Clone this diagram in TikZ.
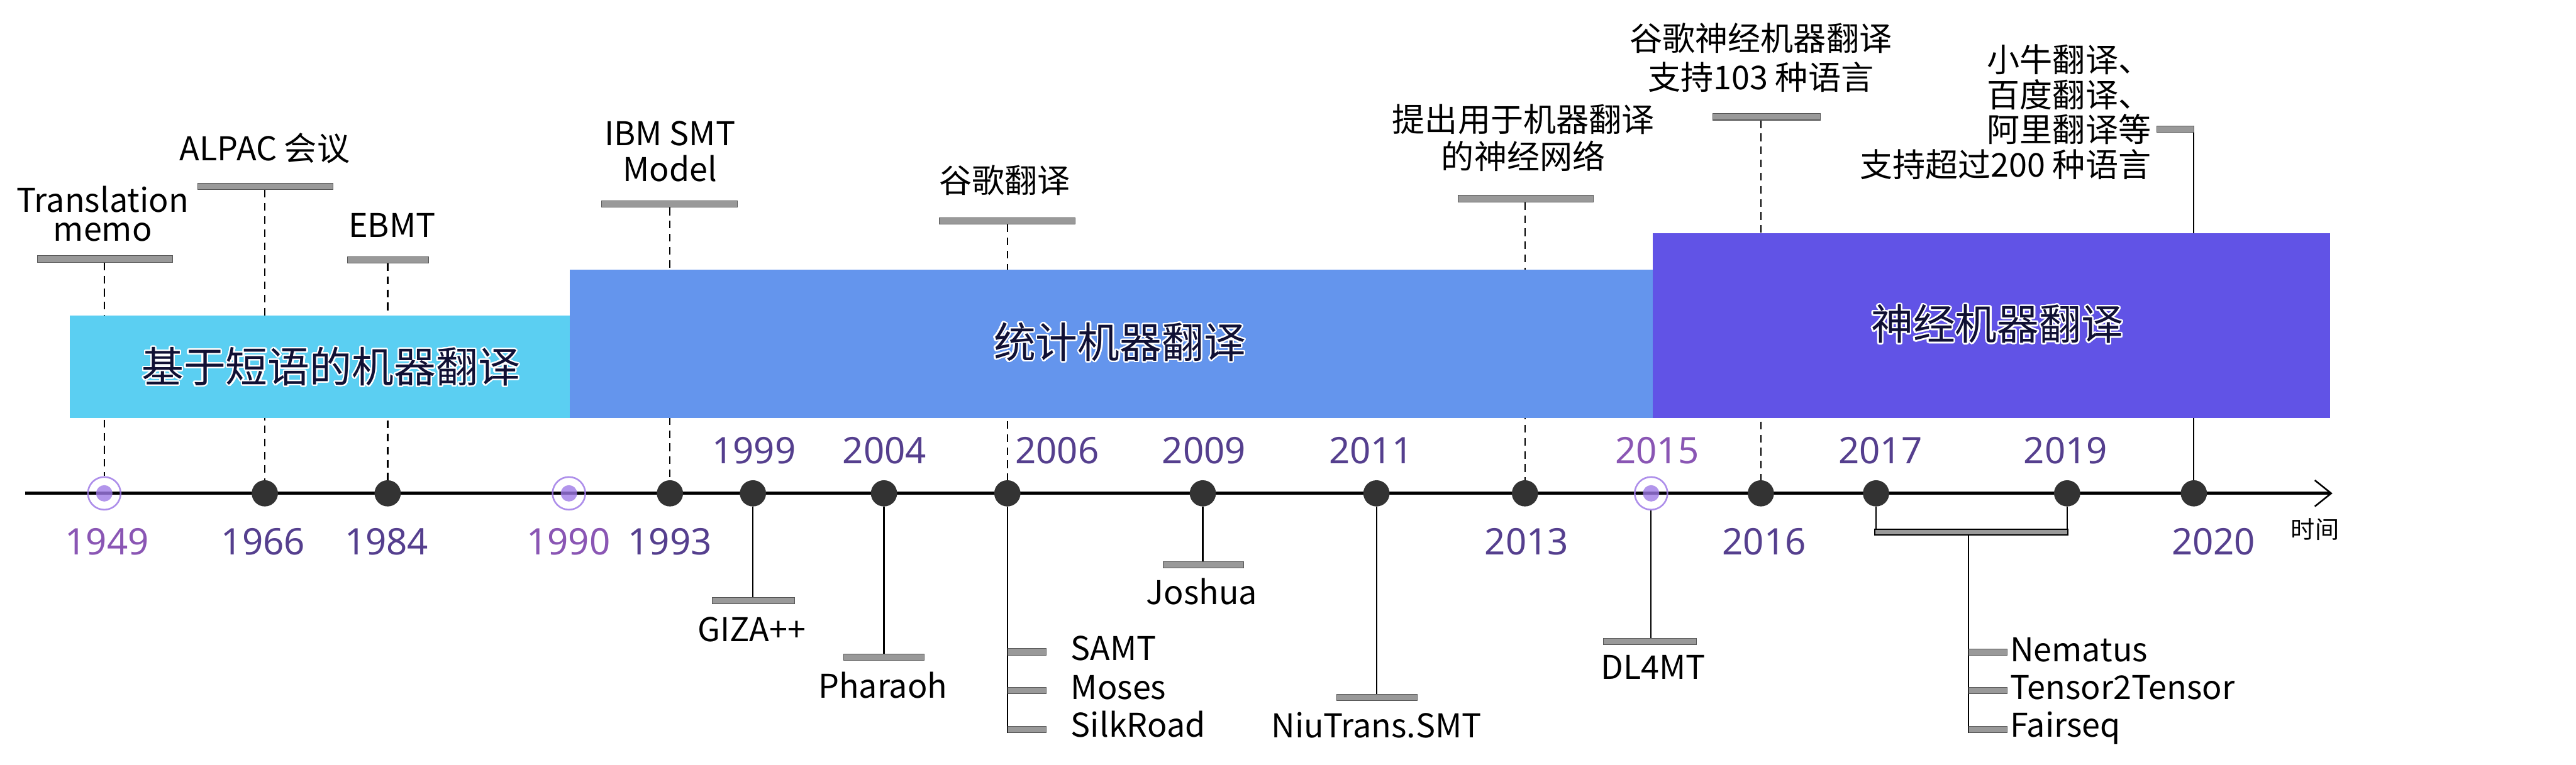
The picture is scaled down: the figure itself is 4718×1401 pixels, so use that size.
\documentclass[tikz,border=0pt]{standalone}
\usepackage{fontspec}
\setmainfont{Noto Sans CJK SC}
\newfontfamily\yrfamily{Noto Sans}
\usepackage{contour}
\contourlength{1.3pt}
\contournumber{32}
\usetikzlibrary{arrows.meta}
\definecolor{bandA}{HTML}{5BCFF2}
\definecolor{bandB}{HTML}{6495ED}
\definecolor{bandC}{HTML}{6153E6}
\definecolor{dotc}{HTML}{333333}
\definecolor{ringc}{HTML}{9F7AE6}
\definecolor{yrc}{HTML}{553F8E}
\definecolor{yrl}{HTML}{8A56B4}
\definecolor{barc}{HTML}{999999}
\definecolor{bard}{HTML}{555555}
\definecolor{bandtxt}{HTML}{101034}
\pgfdeclarelayer{lines}
\pgfdeclarelayer{bands}
\pgfsetlayers{lines,bands,main}
\newcommand\mlab[3]{\parbox[b]{#1}{\centering\fontsize{30}{#2}\selectfont #3}}
\begin{document}
\begin{tikzpicture}[x=0.5pt,y=-0.5pt,
  dot/.style={circle, fill=dotc, minimum size=24pt, inner sep=0},
  sdot/.style={circle, draw=ringc, line width=1.5pt, minimum size=30pt, inner sep=0, draw opacity=0.85,
     path picture={\fill[ringc, fill opacity=0.8] (path picture bounding box.center) circle (7.5pt);}},
  bar/.style={rectangle, fill=barc, draw=bard, line width=0.6pt, minimum height=6pt, inner sep=0},
  lbl/.style={inner sep=0, font=\fontsize{30}{34}\selectfont},
  yr/.style={inner sep=0, font=\yrfamily\fontsize{33.5}{36}\selectfont, text=yrc, anchor=base},
  yrs/.style={yr, text=yrl},
  dline/.style={line width=1.4pt, dash pattern=on 7pt off 5pt},
  sline/.style={line width=1.3pt},
  bandlbl/.style={inner sep=0, font=\fontsize{38.5}{40}\selectfont, text=bandtxt}]
\useasboundingbox (0,0) rectangle (4718,1401);

% axis
\coordinate (ax0) at (46,904);
\coordinate (ax1) at (4272,904);
\draw[line width=3pt, -{Straight Barb[length=15pt, width=24pt, line width=1.5pt]}] (ax0) -- (ax1);
\node[lbl, font=\fontsize{22}{24}\selectfont] (time) at (4240,970) {时间};

% dots
\node[sdot] (d1949) at (191,904) {};
\node[dot] (d1966) at (485,904) {};
\node[dot] (d1984) at (710,904) {};
\node[sdot] (d1990) at (1042,904) {};
\node[dot] (d1993) at (1227,904) {};
\node[dot] (d1999) at (1379,904) {};
\node[dot] (d2004) at (1619,904) {};
\node[dot] (d2006) at (1845,904) {};
\node[dot] (d2009) at (2203,904) {};
\node[dot] (d2011) at (2521,904) {};
\node[dot] (d2013) at (2793,904) {};
\node[sdot] (d2015) at (3024,904) {};
\node[dot] (d2016) at (3225,904) {};
\node[dot] (d2017) at (3436,904) {};
\node[dot] (d2019) at (3786,904) {};
\node[dot] (d2020) at (4018,904) {};

% years
\node[yrs] (y1949) at (196,1017) {1949};
\node[yr] (y1966) at (482,1017) {1966};
\node[yr] (y1984) at (708,1017) {1984};
\node[yrs] (y1990) at (1041,1017) {1990};
\node[yr] (y1993) at (1227,1017) {1993};
\node[yr] (y2013) at (2796,1017) {2013};
\node[yr] (y2016) at (3231,1017) {2016};
\node[yr] (y2020) at (4054,1017) {2020};
\node[yr] (y1999) at (1381,850) {1999};
\node[yr] (y2004) at (1620,850) {2004};
\node[yr] (y2006) at (1936,850) {2006};
\node[yr] (y2009) at (2205,850) {2009};
\node[yr] (y2011) at (2511,850) {2011};
\node[yrs] (y2015) at (3035,850) {2015};
\node[yr] (y2017) at (3444,850) {2017};
\node[yr] (y2019) at (3783,850) {2019};

% top bars and labels
\node[bar, minimum width=123.5pt] (b_tm) at (192.5,474.5) {};
\node[bar, minimum width=124pt] (b_alpac) at (486,341.5) {};
\node[bar, minimum width=74.5pt] (b_ebmt) at (710.5,476) {};
\node[bar, minimum width=124.5pt] (b_ibm) at (1226.5,374) {};
\node[bar, minimum width=124.5pt] (b_gg) at (1845,405) {};
\node[bar, minimum width=124pt] (b_nn) at (2794,364) {};
\node[bar, minimum width=98.5pt] (b_gnmt) at (3235,214) {};
\node[bar, minimum width=34pt, anchor=east] (b_multi) at (4019,236.5) {};

\node[lbl, anchor=base] (l_tm) at (188,442) {\mlab{200pt}{26.5}{Translation\\memo}};
\node[lbl, anchor=base] (l_alpac) at (485,294) {ALPAC 会议};
\node[lbl, anchor=base] (l_ebmt) at (718,435) {EBMT};
\node[lbl, anchor=base] (l_ibm) at (1227,332) {\mlab{200pt}{32.5}{IBM SMT\\Model}};
\node[lbl, anchor=base] (l_gg) at (1840,353) {谷歌翻译};
\node[lbl, anchor=base] (l_nn) at (2790,309) {\mlab{300pt}{34}{提出用于机器翻译\\的神经网络}};
\node[lbl, anchor=base] (l_gnmt) at (3225,164) {\mlab{300pt}{35.5}{谷歌神经机器翻译\\支持103 种语言}};
\node[lbl, anchor=base east] (l_multi) at (3940,324) {\parbox[b]{400pt}{\raggedleft\fontsize{30}{32}\selectfont 小牛翻译、\\百度翻译、\\阿里翻译等\\支持超过200 种语言}};

% bottom bars and labels
\node[bar, minimum width=75pt] (b_giza) at (1380,1100.5) {};
\node[bar, minimum width=74pt] (b_ph) at (1619,1204.5) {};
\node[bar, minimum width=74pt] (b_josh) at (2204,1035) {};
\node[bar, minimum width=74pt] (b_niu) at (2522,1278) {};
\node[bar, minimum width=85pt] (b_dl) at (3022,1175.5) {};
\node[bar, minimum width=35.5pt, anchor=west] (b_samt) at (1845,1194.5) {};
\node[bar, minimum width=35.5pt, anchor=west] (b_moses) at (1845,1265.5) {};
\node[bar, minimum width=35.5pt, anchor=west] (b_silk) at (1845,1336.5) {};
\node[bar, draw=black, line width=1pt, minimum width=176.5pt, minimum height=5.5pt] (b_br) at (3610.5,975) {};
\node[bar, minimum width=35.5pt, anchor=west] (b_nem) at (3605,1195) {};
\node[bar, minimum width=35.5pt, anchor=west] (b_t2t) at (3605,1265.5) {};
\node[bar, minimum width=35.5pt, anchor=west] (b_fs) at (3605,1336.5) {};

\node[lbl, anchor=base] (l_giza) at (1377,1175) {GIZA++};
\node[lbl, anchor=base] (l_ph) at (1617,1279) {Pharaoh};
\node[lbl, anchor=base west] (l_samt) at (1961,1210) {SAMT};
\node[lbl, anchor=base west] (l_moses) at (1961,1281) {Moses};
\node[lbl, anchor=base west] (l_silk) at (1961,1351) {SilkRoad};
\node[lbl, anchor=base] (l_josh) at (2201,1108) {Joshua};
\node[lbl, anchor=base] (l_niu) at (2521,1352) {NiuTrans.SMT};
\node[lbl, anchor=base] (l_dl) at (3028,1245) {DL4MT};
\node[lbl, anchor=base west] (l_nem) at (3681,1212) {Nematus};
\node[lbl, anchor=base west] (l_t2t) at (3681,1282) {Tensor2Tensor};
\node[lbl, anchor=base west] (l_fs) at (3681,1351) {Fairseq};

% band labels
\node[bandlbl] (t_pb) at (606,673) {\contour{white}{基于短语的机器翻译}};
\node[bandlbl] (t_smt) at (2051,628) {\contour{white}{统计机器翻译}};
\node[bandlbl] (t_nmt) at (3658,595) {\contour{white}{神经机器翻译}};

\begin{pgfonlayer}{bands}
\fill[bandA] (128,578) rectangle (1043,766);
\fill[bandB] (1043,494) rectangle (3027,766);
\fill[bandC] (3027,427) rectangle (4268,766);
\end{pgfonlayer}

\begin{pgfonlayer}{lines}
\draw[dline] (b_tm.south -| d1949) -- (d1949.north);
\draw[dline] (b_alpac.south -| d1966) -- (d1966);
\draw[dline] (b_ebmt.south -| d1984) -- (d1984);
\draw[dline] (b_ibm.south -| d1993) -- (d1993);
\draw[dline] (b_gg.south -| d2006) -- (d2006);
\draw[dline] (b_nn.south -| d2013) -- (d2013);
\draw[dline] (b_gnmt.south -| d2016) -- (d2016);
\draw[sline] (b_multi.north -| d2020) -- (d2020);
\draw[sline] (d1999) -- (b_giza.north -| d1999);
\draw[sline] (d2004) -- (b_ph.north -| d2004);
\draw[sline] (d2006) -- (b_silk.south west);
\draw[sline] (d2009) -- (b_josh.north -| d2009);
\draw[sline] (d2011) -- (b_niu.north -| d2011);
\draw[sline] (d2015) -- (b_dl.north -| d2015);
\draw[sline] (d2017) -- (b_br.south -| d2017);
\draw[sline] (d2019) -- (b_br.south -| d2019);
\draw[sline] (b_br.south -| b_nem.west) -- (b_fs.south west);
\end{pgfonlayer}
\end{tikzpicture}
\end{document}
